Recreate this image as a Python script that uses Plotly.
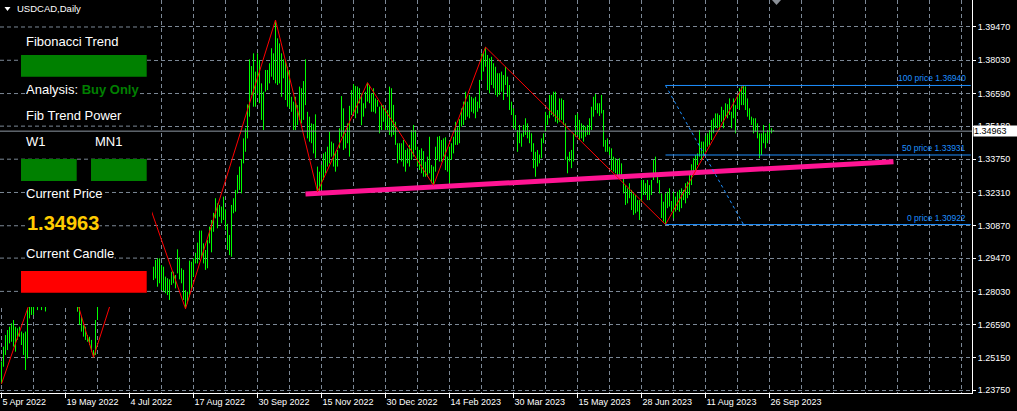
import plotly.graph_objects as go

# ---------------- data ----------------
date_labels = ["5 Apr 2022", "19 May 2022", "4 Jul 2022", "17 Aug 2022", "30 Sep 2022",
               "15 Nov 2022", "30 Dec 2022", "14 Feb 2023", "30 Mar 2023", "15 May 2023",
               "28 Jun 2023", "11 Aug 2023", "26 Sep 2023"]
date_label_bars = [0, 32, 64, 96, 128, 160, 192, 224, 256, 288, 320, 352, 384]

price_ticks = [1.39470, 1.38030, 1.36590, 1.35180, 1.33750, 1.32310,
               1.30870, 1.29470, 1.28030, 1.26590, 1.25150, 1.23750]

bar_high = [
    1.2500, 1.2564, 1.2614, 1.2636, 1.2650, 1.2665, 1.2679, 1.2650, 1.2643, 1.2650,
    1.2629, 1.2622, 1.2629, 1.2730, 1.2780, 1.2815, 1.2865, 1.2875, 1.2880, 1.2890,
    1.2890, 1.2890, 1.2905, 1.2915, 1.2985, 1.3010, 1.3040, 1.3077, 1.3040, 1.2950,
    1.2880, 1.2900, 1.2875, 1.2860, 1.2850, 1.2850, 1.2860, 1.2830, 1.2800, 1.2745,
    1.2693, 1.2657, 1.2650, 1.2614, 1.2607, 1.2593, 1.2549, 1.2679, 1.2760, 1.2890,
    1.2990, 1.2970, 1.3010, 1.3030, 1.3010, 1.3000, 1.3010, 1.3010, 1.2990, 1.2915,
    1.2940, 1.2935, 1.2920, 1.2900, 1.2885, 1.3080, 1.3085, 1.3030, 1.3015, 1.3040,
    1.3050, 1.3190, 1.3224, 1.3090, 1.3020, 1.2950, 1.2910, 1.2939, 1.2946, 1.2946,
    1.2917, 1.2910, 1.2867, 1.2860, 1.2855, 1.2888, 1.2888, 1.2874, 1.2985, 1.2950,
    1.2903, 1.2896, 1.2809, 1.2802, 1.2936, 1.2931, 1.2946, 1.2970, 1.3014, 1.3066,
    1.3066, 1.3011, 1.2982, 1.3025, 1.3083, 1.3112, 1.3143, 1.3206, 1.3184, 1.3177,
    1.3170, 1.3213, 1.3158, 1.3095, 1.3047, 1.3177, 1.3206, 1.3242, 1.3307, 1.3343,
    1.3375, 1.3465, 1.3509, 1.3612, 1.3807, 1.3778, 1.3833, 1.3754, 1.3833, 1.3804,
    1.3703, 1.3667, 1.3761, 1.3761, 1.3790, 1.3855, 1.3833, 1.3977, 1.3898, 1.3876,
    1.3833, 1.3807, 1.3804, 1.3775, 1.3761, 1.3645, 1.3624, 1.3645, 1.3609, 1.3689,
    1.3682, 1.3713, 1.3807, 1.3580, 1.3559, 1.3530, 1.3527, 1.3569, 1.3343, 1.3321,
    1.3350, 1.3400, 1.3407, 1.3429, 1.3494, 1.3451, 1.3444, 1.3407, 1.3415, 1.3509,
    1.3648, 1.3595, 1.3487, 1.3530, 1.3606, 1.3674, 1.3700, 1.3692, 1.3689, 1.3682,
    1.3660, 1.3617, 1.3667, 1.3706, 1.3696, 1.3660, 1.3682, 1.3638, 1.3631, 1.3602,
    1.3609, 1.3609, 1.3595, 1.3588, 1.3689, 1.3682, 1.3610, 1.3537, 1.3444, 1.3444,
    1.3444, 1.3458, 1.3415, 1.3422, 1.3437, 1.3501, 1.3523, 1.3501, 1.3429, 1.3415,
    1.3422, 1.3410, 1.3364, 1.3386, 1.3472, 1.3350, 1.3343, 1.3429, 1.3472, 1.3475,
    1.3458, 1.3465, 1.3470, 1.3386, 1.3429, 1.3444, 1.3472, 1.3537, 1.3513, 1.3548,
    1.3595, 1.3624, 1.3667, 1.3624, 1.3653, 1.3645, 1.3638, 1.3645, 1.3624, 1.3718,
    1.3833, 1.3840, 1.3860, 1.3826, 1.3811, 1.3818, 1.3790, 1.3775, 1.3747, 1.3747,
    1.3754, 1.3739, 1.3775, 1.3732, 1.3696, 1.3624, 1.3595, 1.3566, 1.3501, 1.3523,
    1.3487, 1.3523, 1.3552, 1.3530, 1.3501, 1.3487, 1.3444, 1.3407, 1.3415, 1.3395,
    1.3465, 1.3487, 1.3580, 1.3566, 1.3653, 1.3653, 1.3667, 1.3667, 1.3588, 1.3638,
    1.3638, 1.3631, 1.3530, 1.3386, 1.3407, 1.3415, 1.3487, 1.3566, 1.3573, 1.3545,
    1.3530, 1.3523, 1.3516, 1.3523, 1.3552, 1.3602, 1.3645, 1.3657, 1.3617, 1.3617,
    1.3653, 1.3588, 1.3458, 1.3465, 1.3429, 1.3422, 1.3386, 1.3379, 1.3372, 1.3379,
    1.3357, 1.3299, 1.3263, 1.3249, 1.3271, 1.3242, 1.3227, 1.3220, 1.3198, 1.3198,
    1.3285, 1.3285, 1.3271, 1.3285, 1.3263, 1.3285, 1.3372, 1.3386, 1.3299, 1.3285,
    1.3227, 1.3191, 1.3227, 1.3234, 1.3249, 1.3194, 1.3234, 1.3213, 1.3234, 1.3242,
    1.3249, 1.3242, 1.3271, 1.3278, 1.3307, 1.3353, 1.3379, 1.3393, 1.3400, 1.3501,
    1.3451, 1.3451, 1.3477, 1.3487, 1.3501, 1.3545, 1.3552, 1.3573, 1.3573, 1.3566,
    1.3602, 1.3588, 1.3617, 1.3613, 1.3638, 1.3580, 1.3638, 1.3609, 1.3650, 1.3682,
    1.3690, 1.3694, 1.3690, 1.3638, 1.3595, 1.3559, 1.3552, 1.3552, 1.3530, 1.3487,
    1.3487, 1.3523, 1.3487, 1.3501, 1.3530, 1.3509, 1.3501,
]

bar_low = [
    1.2403, 1.2477, 1.2528, 1.2549, 1.2578, 1.2585, 1.2564, 1.2542, 1.2593, 1.2607,
    1.2571, 1.2528, 1.2463, 1.2513, 1.2686, 1.2701, 1.2701, 1.2760, 1.2722, 1.2800,
    1.2722, 1.2760, 1.2716, 1.2800, 1.2870, 1.2920, 1.2930, 1.2980, 1.2855, 1.2850,
    1.2810, 1.2790, 1.2780, 1.2765, 1.2790, 1.2770, 1.2790, 1.2760, 1.2715, 1.2658,
    1.2629, 1.2607, 1.2593, 1.2585, 1.2571, 1.2542, 1.2518, 1.2528, 1.2679, 1.2740,
    1.2820, 1.2840, 1.2870, 1.2920, 1.2940, 1.2930, 1.2900, 1.2930, 1.2900, 1.2860,
    1.2830, 1.2855, 1.2840, 1.2810, 1.2820, 1.2860, 1.2980, 1.2960, 1.2935, 1.2950,
    1.2970, 1.2935, 1.3050, 1.2990, 1.2930, 1.2885, 1.2852, 1.2859, 1.2823, 1.2838,
    1.2809, 1.2802, 1.2795, 1.2787, 1.2766, 1.2831, 1.2838, 1.2816, 1.2881, 1.2855,
    1.2838, 1.2766, 1.2728, 1.2751, 1.2780, 1.2809, 1.2867, 1.2924, 1.2924, 1.2939,
    1.2953, 1.2924, 1.2896, 1.2903, 1.3011, 1.2972, 1.3061, 1.3119, 1.3076, 1.3126,
    1.3098, 1.3112, 1.3069, 1.2982, 1.2960, 1.2953, 1.3141, 1.3148, 1.3227, 1.3242,
    1.3227, 1.3357, 1.3407, 1.3465, 1.3559, 1.3653, 1.3602, 1.3602, 1.3660, 1.3617,
    1.3545, 1.3501, 1.3667, 1.3674, 1.3703, 1.3732, 1.3718, 1.3703, 1.3696, 1.3703,
    1.3645, 1.3725, 1.3631, 1.3602, 1.3595, 1.3580, 1.3501, 1.3501, 1.3523, 1.3545,
    1.3530, 1.3545, 1.3609, 1.3465, 1.3451, 1.3444, 1.3400, 1.3379, 1.3234, 1.3238,
    1.3242, 1.3285, 1.3314, 1.3343, 1.3357, 1.3386, 1.3343, 1.3321, 1.3343, 1.3422,
    1.3472, 1.3415, 1.3422, 1.3444, 1.3386, 1.3566, 1.3580, 1.3552, 1.3573, 1.3617,
    1.3522, 1.3559, 1.3595, 1.3624, 1.3617, 1.3580, 1.3580, 1.3573, 1.3602, 1.3487,
    1.3501, 1.3537, 1.3501, 1.3501, 1.3480, 1.3472, 1.3480, 1.3437, 1.3357, 1.3372,
    1.3365, 1.3343, 1.3321, 1.3357, 1.3343, 1.3372, 1.3386, 1.3415, 1.3343, 1.3328,
    1.3314, 1.3299, 1.3299, 1.3299, 1.3314, 1.3271, 1.3262, 1.3321, 1.3372, 1.3365,
    1.3365, 1.3386, 1.3328, 1.3321, 1.3271, 1.3372, 1.3400, 1.3437, 1.3437, 1.3444,
    1.3516, 1.3523, 1.3545, 1.3559, 1.3552, 1.3580, 1.3573, 1.3552, 1.3580, 1.3595,
    1.3718, 1.3754, 1.3775, 1.3674, 1.3660, 1.3696, 1.3682, 1.3653, 1.3645, 1.3653,
    1.3667, 1.3631, 1.3696, 1.3645, 1.3588, 1.3566, 1.3509, 1.3501, 1.3407, 1.3444,
    1.3429, 1.3472, 1.3480, 1.3465, 1.3444, 1.3407, 1.3336, 1.3299, 1.3343, 1.3357,
    1.3379, 1.3444, 1.3494, 1.3523, 1.3552, 1.3566, 1.3559, 1.3537, 1.3530, 1.3537,
    1.3545, 1.3523, 1.3372, 1.3314, 1.3365, 1.3336, 1.3365, 1.3472, 1.3480, 1.3458,
    1.3465, 1.3451, 1.3472, 1.3480, 1.3480, 1.3501, 1.3559, 1.3588, 1.3573, 1.3562,
    1.3573, 1.3429, 1.3407, 1.3407, 1.3393, 1.3328, 1.3321, 1.3314, 1.3307, 1.3299,
    1.3307, 1.3227, 1.3177, 1.3184, 1.3206, 1.3155, 1.3134, 1.3141, 1.3148, 1.3112,
    1.3191, 1.3220, 1.3220, 1.3198, 1.3198, 1.3220, 1.3285, 1.3299, 1.3271, 1.3227,
    1.3120, 1.3105, 1.3092, 1.3163, 1.3170, 1.3148, 1.3119, 1.3148, 1.3155, 1.3148,
    1.3163, 1.3198, 1.3184, 1.3206, 1.3220, 1.3263, 1.3307, 1.3321, 1.3350, 1.3386,
    1.3372, 1.3386, 1.3407, 1.3429, 1.3437, 1.3458, 1.3487, 1.3509, 1.3509, 1.3501,
    1.3537, 1.3509, 1.3559, 1.3552, 1.3566, 1.3509, 1.3552, 1.3487, 1.3595, 1.3588,
    1.3609, 1.3609, 1.3588, 1.3559, 1.3545, 1.3523, 1.3487, 1.3494, 1.3465, 1.3379,
    1.3393, 1.3444, 1.3422, 1.3444, 1.3458, 1.3487, 1.3496,
]

# ZigZag pivots (bar index, price)
zz_idx = [0, 27, 46, 72, 92, 137, 158, 183, 216, 242, 332, 371]
zz_price = [1.2403, 1.3077, 1.2518, 1.3224, 1.2728, 1.3977, 1.3234, 1.3706, 1.3262, 1.3860, 1.30922, 1.3694]

# Fibonacci
fib_names = ["0", "50", "100"]
fib_prices = [1.30922, 1.33931, 1.36940]
fib_start_bar = 332
fib_end_bar = 484.6
fib_diag_idx = [332, 371]
fib_diag_price = [1.36940, 1.30922]

# Pink trend line
trend_idx = [152, 446]
trend_price = [1.3224, 1.3364]

current_price = 1.34963
symbol_label = "USDCAD,Daily"

# ---------------- geometry ----------------
W, H = 1017, 411
ML, MR, MT, MB = 0, 45, 0, 18
PW = W - ML - MR
PH = H - MT - MB
Y0, Y1 = 1.23633, 1.40638
X0, X1 = -0.75, 485.25


def px(x):
    return x / PW


def py(y):
    return 1 - y / PH


GRID = "#7C8896"
GREEN = "#00FF00"
FONT = "Liberation Sans, Arial, sans-serif"

bx, by = [], []
for i, (h, l) in enumerate(zip(bar_high, bar_low)):
    bx += [i, i, None]
    by += [l, h, None]

fig = go.Figure()
fig.add_trace(go.Scatter(x=bx, y=by, mode="lines", line=dict(color=GREEN, width=1),
                         opacity=1, hoverinfo="skip"))
fig.add_trace(go.Scatter(x=trend_idx, y=trend_price, mode="lines",
                         line=dict(color="#FF1493", width=5), hoverinfo="skip"))
fig.add_trace(go.Scatter(x=zz_idx, y=zz_price, mode="lines",
                         line=dict(color="#FF0000", width=1), hoverinfo="skip"))
for name, p in zip(fib_names, fib_prices):
    fig.add_trace(go.Scatter(x=[fib_start_bar, fib_end_bar], y=[p, p], mode="lines",
                             line=dict(color="#1E90FF", width=1), hoverinfo="skip"))
fig.add_trace(go.Scatter(x=fib_diag_idx, y=fib_diag_price, mode="lines",
                         line=dict(color="#1E90FF", width=1, dash="dot"), hoverinfo="skip"))

shapes = []
# info panel background (hides chart behind it)
shapes.append(dict(type="rect", xref="paper", yref="paper", x0=px(0), x1=px(152),
                   y0=py(307), y1=py(0), fillcolor="black", line=dict(width=0), layer="above"))
panel_bottom_price = Y0 + (PH - 307) / PH * (Y1 - Y0)
for p in price_ticks:
    if p > panel_bottom_price:
        shapes.append(dict(type="line", xref="paper", yref="y", x0=px(0), x1=px(152),
                           y0=p, y1=p, line=dict(color=GRID, width=1, dash="4px,3px"),
                           layer="above"))
# current price line
shapes.append(dict(type="line", xref="paper", yref="y", x0=0, x1=1, y0=current_price,
                   y1=current_price, line=dict(color="#8E99A4", width=1), layer="above"))
# panel boxes
for (x0, x1, y0, y1, col) in [(21, 146.7, 55, 76.7, "#008000"),
                              (21, 76.7, 159, 181, "#008000"),
                              (91, 146.7, 159, 181, "#008000"),
                              (21, 146.7, 271, 292.7, "#FF0000")]:
    shapes.append(dict(type="rect", xref="paper", yref="paper", x0=px(x0), x1=px(x1),
                       y0=py(y1), y1=py(y0), fillcolor=col, line=dict(width=0), layer="above"))
# small triangles
shapes.append(dict(type="path", xref="paper", yref="paper",
                   path=f"M {px(4.5)} {py(7)} L {px(10.5)} {py(7)} L {px(7.5)} {py(11)} Z",
                   fillcolor="white", line=dict(width=0), layer="above"))
shapes.append(dict(type="path", xref="paper", yref="paper",
                   path=f"M {px(772)} {py(0)} L {px(781)} {py(0)} L {px(776.5)} {py(5)} Z",
                   fillcolor="#8A8F96", line=dict(width=0), layer="above"))

ann = []


def txt(text, x, y, size=13, color="white", bold=False):
    if bold:
        text = f"<b>{text}</b>"
    ann.append(dict(text=text, xref="paper", yref="paper", x=px(x), y=py(y),
                    xanchor="left", yanchor="middle", showarrow=False,
                    font=dict(family=FONT, size=size, color=color),
                    bgcolor="black", borderpad=0))


txt(symbol_label, 15.5, 8.5, size=9.5)
txt("Fibonacci Trend", 25, 41.7)
txt("Analysis: <span style='color:#008000'><b>Buy Only</b></span>", 25, 90)
txt("Fib Trend Power", 25, 115)
txt("W1", 25, 141.7)
txt("MN1", 93.5, 141.7)
txt("Current Price", 25, 193.3)
txt(f"{current_price:.5f}", 25.5, 222.7, size=20, color="#FFCC00", bold=True)
txt("Current Candle", 25, 253.3)

for name, p in zip(fib_names, fib_prices):
    ann.append(dict(text=f"{name} price {p:.5f}", xref="paper", yref="y", x=px(968), y=p,
                    xanchor="right", yanchor="bottom", showarrow=False, yshift=0,
                    font=dict(family=FONT, size=8.5, color="#1E90FF")))

ann.append(dict(text=f"{current_price:.5f}", xref="paper", yref="y", x=1, y=current_price,
                xanchor="left", yanchor="middle", xshift=1, showarrow=False, width=43,
                align="left", bgcolor="white", borderpad=0,
                font=dict(family=FONT, size=9, color="black")))

fig.update_layout(
    width=W, height=H,
    margin=dict(l=ML, r=MR, t=MT, b=MB),
    paper_bgcolor="black", plot_bgcolor="black",
    showlegend=False,
    xaxis=dict(range=[X0, X1], tickmode="array", tickvals=date_label_bars,
               ticktext=date_labels, ticks="outside", ticklen=4, tickcolor="white",
               ticklabelposition="outside right",
               showgrid=True, gridcolor=GRID, griddash="4px,3px", gridwidth=1,
               showline=True, linecolor="white", linewidth=1, zeroline=False,
               tickfont=dict(family=FONT, size=9, color="white"),
               minor=dict(tickmode="linear", tick0=0, dtick=16, showgrid=True,
                          gridcolor=GRID, griddash="4px,3px", gridwidth=1, ticks="")),
    yaxis=dict(side="right", range=[Y0, Y1], tickmode="array", tickvals=price_ticks,
               ticktext=[f"{v:.5f}" for v in price_ticks], ticks="outside", ticklen=3,
               tickcolor="white", showgrid=True, gridcolor=GRID, griddash="4px,3px",
               gridwidth=1, showline=True, linecolor="white", linewidth=1, zeroline=False,
               tickfont=dict(family=FONT, size=9, color="white")),
    shapes=shapes,
    annotations=ann,
)

fig.write_html("out.html", config={"displayModeBar": False},
               post_script="document.body.style.margin='0';document.body.style.padding='0';document.body.style.background='black';")
